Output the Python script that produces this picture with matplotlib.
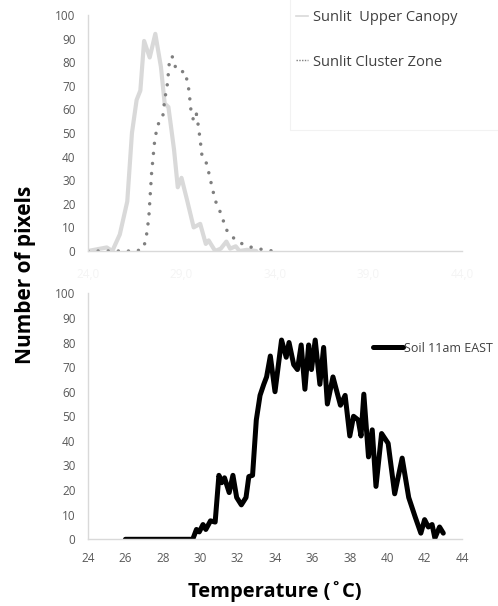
import matplotlib
matplotlib.use("Agg")
import matplotlib.pyplot as plt
from matplotlib.lines import Line2D
from matplotlib.patches import Rectangle

plt.rcParams['font.family'] = ['Open Sans', 'DejaVu Sans']

# ---- data ----
canopy_t = [24.0, 25.0, 25.3, 25.7, 26.1, 26.35, 26.6, 26.8, 27.0, 27.3, 27.6, 27.9, 28.1, 28.3,
            28.6, 28.8, 29.0, 29.3, 29.65, 30.0, 30.3, 30.45, 30.8, 31.1, 31.4, 31.6, 31.9, 32.1,
            32.5, 33.0]
canopy_v = [0, 1.5, 0, 7, 21, 50, 64, 68, 89, 82, 92, 78, 62.5, 61,
            43, 27, 31, 21.5, 10, 11.5, 3, 4.5, 0, 1, 4, 1, 2, 0,
            0.5, 0]

cluster_t = [24.0, 26.6, 26.95, 27.1, 27.25, 27.4, 27.55, 27.7, 28.0, 28.1, 28.25, 28.35, 28.5,
             28.6, 28.85, 29.2, 29.3, 29.4, 29.5, 29.65, 29.8, 29.9, 30.0, 30.1, 30.35, 30.55,
             30.8, 31.1, 31.4, 31.9, 32.5, 33.4, 33.9]
cluster_v = [0, 0, 1, 5, 14, 33, 45.5, 53, 57, 64, 71, 80, 82.6,
             79, 76, 76, 72, 68, 60, 55, 58, 53, 47, 40, 37, 30,
             21.5, 16, 9, 4.5, 2, 0.5, 0]

soil_t = [26.0, 29.6, 29.8, 29.95, 30.15, 30.3, 30.55, 30.8, 31.0, 31.15, 31.3, 31.55, 31.75,
          31.95, 32.2, 32.45, 32.6, 32.8, 33.0, 33.2, 33.4, 33.55, 33.75, 34.0, 34.35, 34.6,
          34.75, 35.0, 35.2, 35.4, 35.6, 35.8, 35.95, 36.15, 36.4, 36.6, 36.8, 37.1, 37.5,
          37.75, 38.0, 38.2, 38.45, 38.6, 38.75, 39.0, 39.2, 39.4, 39.7, 40.05, 40.4, 40.8,
          41.15, 41.5, 41.8, 42.0, 42.2, 42.4, 42.55, 42.8, 43.0]
soil_v = [0, 0, 4, 3, 6, 4, 7.5, 7, 26, 23, 25, 19, 26,
          17, 14, 17, 25.5, 26, 48.5, 58.5, 63, 66, 74.5, 60, 81, 74,
          80, 71, 69, 79, 61, 79, 69, 81, 63, 78, 55, 66, 54.5,
          58.5, 42, 50, 48.5, 42, 59, 33.5, 44.5, 21.5, 43, 39, 18.5, 33,
          17, 9, 2.5, 8, 5, 6, 0.5, 5, 2.5]

y_ticks = list(range(0, 101, 10))
x_ticks_top = [24.0, 29.0, 34.0, 39.0, 44.0]
x_ticks_bottom = list(range(24, 45, 2))

TICK_COLOR = '#595959'
AXIS_COLOR = '#d9d9d9'

fig = plt.figure(figsize=(4.98, 6.06), dpi=100)
W, H = 498, 606

def axes_px(left, top, right, bottom):
    return fig.add_axes([left / W, 1 - bottom / H, (right - left) / W, (bottom - top) / H])

def style(ax):
    for s in ['top', 'right']:
        ax.spines[s].set_visible(False)
    for s in ['left', 'bottom']:
        ax.spines[s].set_color(AXIS_COLOR)
        ax.spines[s].set_linewidth(1.0)
    ax.set_ylim(0, 100)
    ax.set_xlim(24, 44)
    ax.set_yticks(y_ticks)
    ax.tick_params(axis='both', length=0, labelsize=8.5, labelcolor=TICK_COLOR)
    ax.tick_params(axis='y', pad=9)
    ax.set_facecolor('none')

# faint legend area box (top chart)
fig.patches.append(Rectangle((290 / W, 1 - 130 / H), 215 / W, 135 / H,
                             transform=fig.transFigure, fill=False,
                             edgecolor='#f2f2f2', linewidth=0.8, zorder=0))

# ---- top chart ----
ax1 = axes_px(88, 15, 462, 251)
style(ax1)
ax1.plot(canopy_t, canopy_v, color='#d9d9d9', lw=3.0, solid_joinstyle='round',
         solid_capstyle='round', label='Sunlit  Upper Canopy')
ax1.plot(cluster_t, cluster_v, color='#7f7f7f', lw=2.5, linestyle=(0, (0.01, 2.9)),
         dash_capstyle='round', label='Sunlit Cluster Zone')
ax1.set_xticks(x_ticks_top)
ax1.set_xticklabels([f"{v:.1f}".replace('.', ',') for v in x_ticks_top], color='#f4f4f4')
ax1.tick_params(axis='x', pad=12)

h1 = Line2D([], [], color='#d9d9d9', lw=1.2)
h2 = Line2D([], [], color='#7f7f7f', lw=1.0, linestyle=(0, (1, 1)))
leg1 = fig.legend([h1, h2], ['Sunlit  Upper Canopy', 'Sunlit Cluster Zone'],
                  loc='upper left', bbox_to_anchor=(292 / W, 1 - 6 / H),
                  fontsize=10.5, handlelength=0.8, handletextpad=0.35,
                  labelspacing=2.0, frameon=False,
                  borderpad=0.3, borderaxespad=0)
for t in leg1.get_texts():
    t.set_color('#404040')

# ---- bottom chart ----
ax2 = axes_px(88, 293.3, 462, 539.3)
style(ax2)
ax2.plot(soil_t, soil_v, color='black', lw=3.6, solid_joinstyle='round',
         solid_capstyle='round', label='Soil 11am EAST')
ax2.set_xticks(x_ticks_bottom)
ax2.tick_params(axis='x', pad=9)

h3 = Line2D([], [], color='black', lw=3.6, solid_capstyle='round')
leg2 = fig.legend([h3], ['Soil 11am EAST'], loc='center left',
                  bbox_to_anchor=(373 / W, 1 - 348 / H), fontsize=9,
                  handlelength=2.4, handletextpad=0.05, frameon=False,
                  borderpad=0, borderaxespad=0)
for t in leg2.get_texts():
    t.set_color('#404040')

# ---- axis titles ----
fig.text(25 / W, 1 - 275 / H, 'Number of pixels', rotation=90, ha='center', va='center',
         fontsize=15, fontweight='bold', color='black')
fig.text(275 / W, 1 - 592 / H, 'Temperature (\u02daC)', ha='center', va='center',
         fontsize=14.5, fontweight='bold', color='black')

fig.savefig('out.png', dpi=100)
